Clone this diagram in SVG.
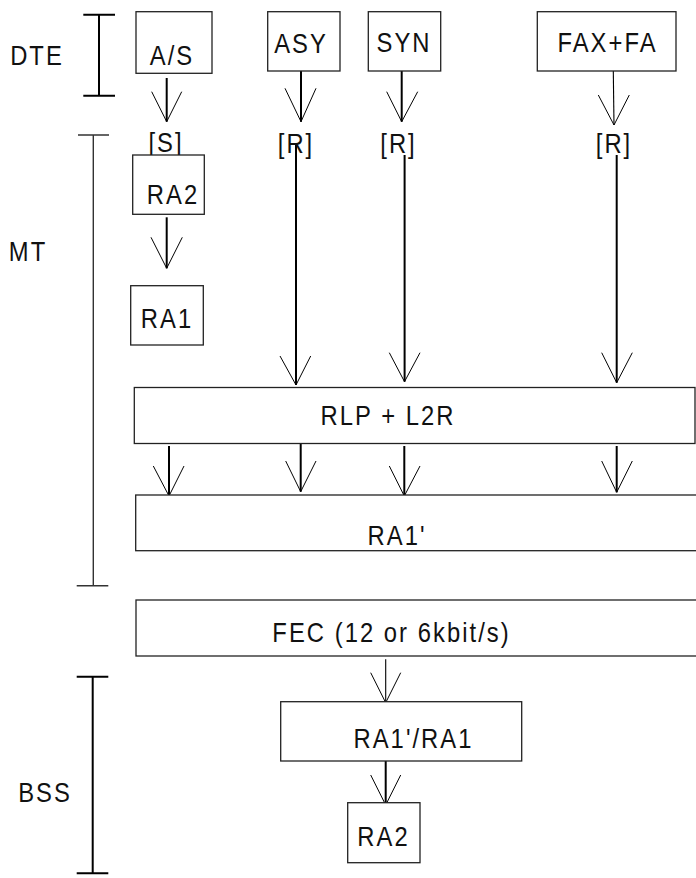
<svg xmlns="http://www.w3.org/2000/svg" width="696" height="878" viewBox="0 0 696 878">
<style>
  .box { fill: #fff; stroke: #222; stroke-width: 1.3; }
  .lbl { font-family: "Liberation Sans", Arial, sans-serif; font-size: 28px; fill: #111; text-anchor: middle; letter-spacing: 2.4px; }
  .shaft { stroke: #000; stroke-width: 2; fill: none; }
  .thin { stroke: #000; stroke-width: 1.1; fill: none; }
  .wing { stroke: #000; stroke-width: 1; fill: none; }
  .brk { stroke: #000; stroke-width: 2; fill: none; }
  .brk2 { stroke: #333; stroke-width: 1.4; fill: none; }
</style>
<rect width="696" height="878" fill="#fff"/>

<g id="scopes">
  <g id="scope-dte">
    <path class="brk" d="M83.3 14.7H115M99 14.7V95.7M83.3 95.7H115"/>
    <text class="lbl" transform="translate(37,65) scale(0.85,1)">DTE</text>
  </g>
  <g id="scope-mt">
    <path class="brk2" d="M78 135H109M93.3 135V585.7M76.7 585.7H108.3"/>
    <text class="lbl" transform="translate(28,260.7) scale(0.85,1)">MT</text>
  </g>
  <g id="scope-bss">
    <path class="brk" d="M76.7 676.7H108.3M92.7 676.7V873.3M76.7 873.3H108.3"/>
    <text class="lbl" transform="translate(45,801.7) scale(0.85,1)">BSS</text>
  </g>
</g>

<g id="connectors">
  <path class="shaft" d="M166.7 78V121.7"/>
  <polyline class="wing" points="151.7,91.7 166.7,121.7 181.7,91.7"/>
  <path class="shaft" d="M301 71V121.7"/>
  <polyline class="wing" points="285,88.3 301,121.7 316,88.3"/>
  <path class="shaft" d="M401.7 71V121.7"/>
  <polyline class="wing" points="386.7,91.7 401.7,121.7 417.7,91.7"/>
  <path class="thin" d="M613.3 71L614 125"/>
  <polyline class="wing" points="598.3,95 614,125 629.3,95"/>

  <path class="shaft" d="M166.7 217.3V268.3"/>
  <polyline class="wing" points="151,237.3 166.7,268.3 182.3,237.3"/>

  <path class="shaft" d="M296 145V385"/>
  <polyline class="wing" points="280,356 296,385 310.7,356"/>
  <path class="shaft" d="M404.6 155V381.7"/>
  <polyline class="wing" points="389.3,352.7 404.5,381.7 420,352.7"/>
  <path class="shaft" d="M616.7 155V382.7"/>
  <polyline class="wing" points="601.7,352.7 616.7,382.7 632.3,352.7"/>

  <path class="shaft" d="M169 446V496"/>
  <polyline class="wing" points="153.3,466 169,496 184,466"/>
  <path class="shaft" d="M300.7 441.7V491.7"/>
  <polyline class="wing" points="285.7,461 300.7,491.7 316,461"/>
  <path class="shaft" d="M404.3 446V496"/>
  <polyline class="wing" points="389.3,466 404.3,496 420,466"/>
  <path class="shaft" d="M616.7 446V492.3"/>
  <polyline class="wing" points="601.7,461 616.7,492.3 632.3,461"/>

  <path class="thin" d="M385.7 659.3V702.7"/>
  <polyline class="wing" points="370.7,672.7 385.7,702.7 400.7,672.7"/>
  <path class="shaft" d="M385.7 759V805"/>
  <polyline class="wing" points="370.7,775 385.7,805 400.7,775"/>
</g>

<g id="n-as">
  <rect class="box" x="136" y="11.7" width="76" height="61.6"/>
  <text class="lbl" transform="translate(172,65) scale(0.85,1)">A/S</text>
</g>
<g id="n-asy">
  <rect class="box" x="267.7" y="11.7" width="72.3" height="59.3"/>
  <text class="lbl" transform="translate(301,52.7) scale(0.85,1)">ASY</text>
</g>
<g id="n-syn">
  <rect class="box" x="368.3" y="11.7" width="72.4" height="59.3"/>
  <text class="lbl" transform="translate(404,51.7) scale(0.85,1)">SYN</text>
</g>
<g id="n-fax">
  <rect class="box" x="537.3" y="11.7" width="138.7" height="59.3"/>
  <text class="lbl" transform="translate(607.5,51.7) scale(0.85,1)">FAX+FA</text>
</g>

<g id="n-s">
  <text class="lbl" transform="translate(166,152) scale(0.85,1)">[S]</text>
</g>
<g id="n-r1">
  <text class="lbl" transform="translate(296,153) scale(0.85,1)">[R]</text>
</g>
<g id="n-r2">
  <text class="lbl" transform="translate(398.5,153) scale(0.85,1)">[R]</text>
</g>
<g id="n-r3">
  <text class="lbl" transform="translate(614,153) scale(0.85,1)">[R]</text>
</g>

<g id="n-ra2-mt">
  <rect class="box" x="132.7" y="155" width="71.6" height="59.3"/>
  <text class="lbl" transform="translate(173,204.3) scale(0.85,1)">RA2</text>
</g>
<g id="n-ra1-mt">
  <rect class="box" x="130.7" y="285.7" width="72.6" height="59.3"/>
  <text class="lbl" transform="translate(167,328.3) scale(0.85,1)">RA1</text>
</g>
<g id="n-rlp">
  <rect class="box" x="134.3" y="387.5" width="560.7" height="56"/>
  <text class="lbl" transform="translate(388,425) scale(0.85,1)">RLP + L2R</text>
</g>
<g id="n-ra1p">
  <rect class="box" x="135.7" y="495" width="570" height="55.7"/>
  <text class="lbl" transform="translate(397,544.5) scale(0.85,1)">RA1'</text>
</g>
<g id="n-fec">
  <rect class="box" x="136" y="600" width="570" height="56"/>
  <text class="lbl" transform="translate(391.5,641.7) scale(0.85,1)">FEC (12 or 6kbit/s)</text>
</g>
<g id="n-ra1ra1">
  <rect class="box" x="280.7" y="701.7" width="241" height="59.3"/>
  <text class="lbl" transform="translate(413.5,748.3) scale(0.85,1)">RA1'/RA1</text>
</g>
<g id="n-ra2-bss">
  <rect class="box" x="347.7" y="802.7" width="72.3" height="60"/>
  <text class="lbl" transform="translate(383.5,846) scale(0.85,1)">RA2</text>
</g>
</svg>
